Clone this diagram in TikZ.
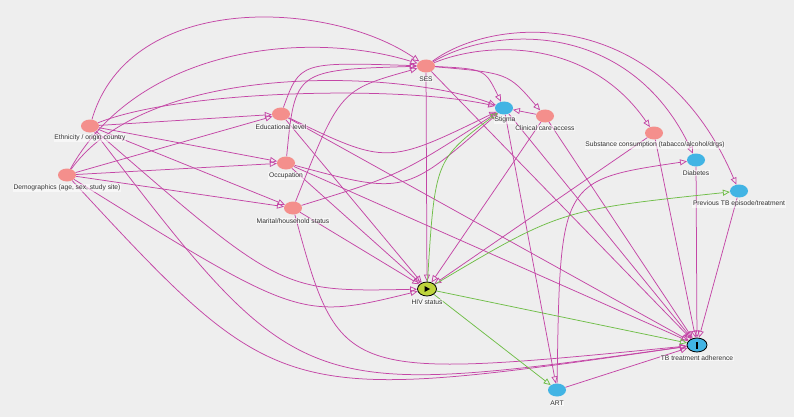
\documentclass[tikz,border=0pt]{standalone}
\usepackage{fontspec}
\setmainfont{Liberation Sans}
\usetikzlibrary{arrows.meta,shapes.geometric}
\definecolor{bgc}{RGB}{238,238,238}
\definecolor{pinkn}{RGB}{244,143,140}
\definecolor{bluen}{RGB}{66,180,228}
\definecolor{expn}{RGB}{190,212,60}
\definecolor{edgepink}{RGB}{196,70,166}
\definecolor{edgegreen}{RGB}{112,190,72}
\definecolor{txt}{RGB}{51,51,51}
\pgfdeclarelayer{bgl}\pgfdeclarelayer{edgel}\pgfsetlayers{bgl,edgel,main}
\begin{document}
\begin{tikzpicture}[x=1pt,y=1pt,
 var/.style={ellipse,minimum width=18pt,minimum height=13pt,inner sep=0pt},
 anc/.style={var,fill=pinkn},
 oanc/.style={var,fill=bluen},
 lbl/.style={font=\fontsize{6.7}{7}\selectfont,text=txt,fill=white,fill opacity=0.55,text opacity=1,inner sep=0.6pt},
 pinkedge/.style={draw=edgepink,line width=0.75pt,-{Triangle[open,length=7pt,width=6pt]}},
 greenedge/.style={pinkedge,draw=edgegreen},
]
\begin{pgfonlayer}{bgl}
\fill[bgc] (0,0) rectangle (794,-417);
\end{pgfonlayer}
\useasboundingbox (0,0) rectangle (794,-417);

% nodes
\node[anc] (ses) at (426,-66) {};
\node[oanc] (stig) at (504,-108) {};
\node[anc] (clin) at (545,-116) {};
\node[anc] (ethn) at (90,-126) {};
\node[anc] (edu) at (281,-114) {};
\node[anc] (subs) at (654,-133) {};
\node[oanc] (diab) at (696,-160) {};
\node[anc] (occ) at (286,-163) {};
\node[anc] (demo) at (67,-175) {};
\node[oanc] (prev) at (739,-191) {};
\node[anc] (mar) at (293,-208) {};
\node[var,fill=expn,draw=black,line width=0.8pt,minimum width=19pt,minimum height=14pt] (hiv) at (427,-289) {};
\node[var,fill=bluen,draw=black,line width=0.8pt,minimum width=20pt,minimum height=14pt] (tb) at (697,-345) {};
\node[oanc] (art) at (557,-390) {};
\fill[black] ([xshift=-2.5pt,yshift=3pt]hiv.center) -- ([xshift=3pt]hiv.center) -- ([xshift=-2.5pt,yshift=-3pt]hiv.center) -- cycle;
\fill[black] ([xshift=-1pt,yshift=-3.5pt]tb.center) rectangle ([xshift=1pt,yshift=3.5pt]tb.center);

% labels
\node[lbl] (lses) at (426,-79) {SES};
\node[lbl] (lstig) at (505,-120) {Stigma};
\node[lbl] (lclin) at (545,-128) {Clinical care access};
\node[lbl] (lethn) at (90,-138) {Ethnicity / origin country};
\node[lbl] (ledu) at (281,-127) {Educational level};
\node[lbl] (lsubs) at (655,-145) {Substance consumption (tabacco/alcohol/drgs)};
\node[lbl] (ldiab) at (696,-173) {Diabetes};
\node[lbl] (locc) at (286,-176) {Occupation};
\node[lbl] (ldemo) at (67,-188) {Demographics (age, sex, study site)};
\node[lbl] (lprev) at (739,-204) {Previous TB episode/treatment};
\node[lbl] (lmar) at (293,-221) {Marital/household status};
\node[lbl] (lhiv) at (427,-302) {HIV status};
\node[lbl] (ltb) at (697,-358) {TB treatment adherence};
\node[lbl] (lart) at (557,-403) {ART};

\begin{pgfonlayer}{edgel}
% straight pink edges
\draw[pinkedge] (ethn) -- (edu);
\draw[pinkedge] (ethn) -- (occ);
\draw[pinkedge] (ethn) -- (mar);
\draw[pinkedge] (demo) -- (edu);
\draw[pinkedge] (demo) -- (occ);
\draw[pinkedge] (demo) -- (mar);
\draw[pinkedge] (edu) -- (hiv);
\draw[pinkedge] (occ) -- (hiv);
\draw[pinkedge] (mar) -- (hiv);
\draw[pinkedge] (ses) -- (hiv);
\draw[pinkedge] (clin) -- (hiv);
\draw[pinkedge] (subs) -- (hiv);
\draw[pinkedge] (ses) -- (tb);
\draw[pinkedge] (stig) -- (tb);
\draw[pinkedge] (clin) -- (tb);
\draw[pinkedge] (subs) -- (tb);
\draw[pinkedge] (diab) -- (tb);
\draw[pinkedge] (prev) -- (tb);
\draw[pinkedge] (edu) -- (tb);
\draw[pinkedge] (occ) -- (tb);
\draw[pinkedge] (art) -- (tb);
\draw[pinkedge] (stig) -- (art);
\draw[pinkedge] (clin) -- (stig);
% curved pink edges
\draw[pinkedge] (ethn) .. controls (130,10) and (330,0) .. (ses);
\draw[pinkedge] (demo) .. controls (140,-45) and (310,-30) .. (ses);
\draw[pinkedge] (demo) .. controls (150,-60) and (400,-70) .. (stig);
\draw[pinkedge] (ethn) .. controls (180,-90) and (400,-85) .. (stig);
\draw[pinkedge] (edu) .. controls (300,-62) .. (ses);
\draw[pinkedge] (occ) .. controls (295,-70) .. (ses);
\draw[pinkedge] (mar) .. controls (340,-90) .. (ses);
\draw[pinkedge] (edu) .. controls (387,-165) .. (stig);
\draw[pinkedge] (occ) .. controls (405,-195) .. (stig);
\draw[pinkedge] (mar) .. controls (400,-175) .. (stig);
\draw[pinkedge] (ses) .. controls (485,-69) .. (stig);
\draw[pinkedge] (ses) .. controls (508,-73) .. (clin);
\draw[pinkedge] (ses) .. controls (490,-40) and (590,-40) .. (subs);
\draw[pinkedge] (ses) .. controls (495,-25) and (630,-20) .. (diab);
\draw[pinkedge] (ses) .. controls (495,-15) and (660,-5) .. (prev);
\draw[pinkedge] (ethn) .. controls (281,-292) .. (hiv);
\draw[pinkedge] (demo) .. controls (300,-320) .. (hiv);
\draw[pinkedge] (ethn) .. controls (300,-400) .. (tb);
\draw[pinkedge] (demo) .. controls (280,-405) .. (tb);
\draw[pinkedge] (mar) .. controls (340,-380) .. (tb);
\draw[pinkedge] (art) .. controls (560,-180) .. (diab);
% green edges
\draw[greenedge] (hiv) -- (tb);
\draw[greenedge] (hiv) -- (art);
\draw[greenedge] (hiv) .. controls (560,-210) .. (prev);
\draw[greenedge] (hiv) .. controls (435,-160) .. (stig);
\end{pgfonlayer}
\end{tikzpicture}
\end{document}
